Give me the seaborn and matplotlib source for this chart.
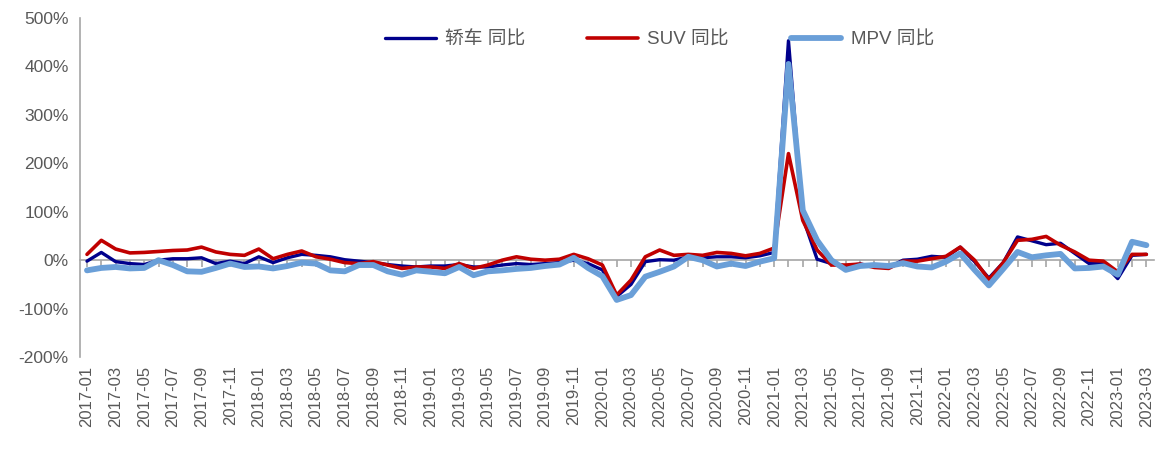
import pandas as pd
import seaborn as sns
import matplotlib.pyplot as plt
from matplotlib.ticker import FuncFormatter

# monthly labels 2017-01 .. 2023-03
months = pd.period_range("2017-01", "2023-03", freq="M").strftime("%Y-%m").tolist()

# YoY growth (%)
sedan = [-2, 16, -3, -7, -9, 0, 3, 3, 5, -7, -2, -7,
         7, -5, 5, 12, 10, 7, 1, -2, -5, -9, -12, -14,
         -12, -12, -9, -14, -14, -10, -7, -9, -7, -5, 0, -7,
         -20, -75, -50, -3, 1, 0, 7, 5, 7, 7, 5, 9,
         16, 453, 88, 2, -7, -12, -8, -12, -15, 0, 2, 8,
         6, 27, -3, -37, -5, 48, 40, 32, 35, 14, -7, -7,
         -38, 10, 12]
suv = [12, 41, 23, 15, 16, 18, 20, 21, 27, 17, 12, 10,
       23, 3, 12, 19, 7, 2, -5, -7, -3, -10, -17, -14,
       -14, -17, -7, -17, -10, 0, 7, 2, 0, 2, 12, 3,
       -10, -72, -41, 7, 21, 10, 12, 10, 16, 14, 9, 14,
       25, 220, 82, 21, -10, -10, -8, -15, -17, -2, -2, 3,
       8, 27, 0, -40, -5, 41, 43, 49, 31, 17, 0, -2,
       -24, 12, 12]
mpv = [-21, -16, -14, -17, -16, 0, -10, -23, -24, -16, -7, -14,
       -13, -17, -12, -5, -7, -21, -23, -10, -10, -23, -30, -21,
       -24, -27, -14, -31, -23, -21, -18, -16, -12, -9, 5, -16,
       -33, -82, -72, -34, -24, -13, 7, 0, -13, -7, -12, -3,
       4, 405, 103, 41, 0, -20, -12, -10, -12, -6, -13, -15,
       -3, 14, -20, -52, -18, 17, 6, 10, 13, -17, -16, -13,
       -30, 38, 31]

series_names = ["轿车 同比", "SUV 同比", "MPV 同比"]
colors = ["#00008C", "#C00000", "#6A9FD8"]
widths = [2.4, 2.6, 4.2]

sns.set_style("white")
plt.rcParams["font.family"] = ["Liberation Sans", "Noto Sans CJK SC", "DejaVu Sans"]

fig = plt.figure(figsize=(11.57, 4.59), dpi=100)
ax = fig.add_axes([0.069, 0.222, 0.928, 0.739])

idx = list(range(len(months)))
for name, vals, c, lw in zip(series_names, [sedan, suv, mpv], colors, widths):
    sns.lineplot(x=idx, y=vals, ax=ax, color=c, linewidth=lw, label=name,
                 solid_capstyle="round", solid_joinstyle="round")

ax.set_xlim(-0.5, len(months) - 0.5)
ax.set_ylim(-200, 500)
ax.set_yticks(range(-200, 501, 100))
ax.yaxis.set_major_formatter(FuncFormatter(lambda v, p: f"{int(v)}%"))

gray = "#595959"
for s in ["top", "right", "bottom"]:
    ax.spines[s].set_visible(False)
ax.spines["left"].set_color("#A6A6A6")
ax.spines["left"].set_linewidth(1.2)
ax.tick_params(axis="y", direction="out", length=5, width=1.2, color="#A6A6A6",
               labelsize=12.5, labelcolor=gray, pad=3)

# category labels at the bottom, every 2 months
ax.set_xticks(idx[::2])
ax.set_xticklabels(months[::2], rotation=90)
ax.tick_params(axis="x", length=0, labelsize=12, labelcolor=gray, pad=6)

# axis line through zero with monthly ticks
zero_ax = ax.secondary_xaxis(200 / 700)
zero_ax.set_xticks(idx)
zero_ax.set_xticklabels([])
zero_ax.spines["bottom"].set_color("#A6A6A6")
zero_ax.spines["bottom"].set_linewidth(1.2)
zero_ax.tick_params(direction="out", length=5, width=1.2, color="#A6A6A6")

ax.set_xlabel("")
ax.set_ylabel("")
leg = ax.legend(loc="upper center", bbox_to_anchor=(0.54, 1.01), ncol=3, frameon=False,
                fontsize=13.5, handlelength=2.7, columnspacing=3.3, handletextpad=0.5)
for t in leg.get_texts():
    t.set_color(gray)

fig.savefig("out.png", dpi=100)
